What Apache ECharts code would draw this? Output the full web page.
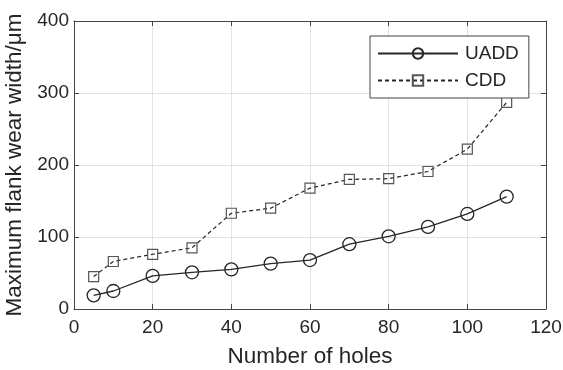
<!DOCTYPE html>
<html><head><meta charset="utf-8">
<script src="https://cdn.jsdelivr.net/npm/echarts@6/dist/echarts.min.js"></script>
<style>html,body{margin:0;padding:0;background:#fff}#c{width:563px;height:370px}</style>
</head><body><div id="c"></div>
<script>
const holes = [5, 10, 20, 30, 40, 50, 60, 70, 80, 90, 100, 110];
const uadd = [19, 25, 46, 51, 55, 63, 68, 90, 101, 114, 132, 156];
const cdd = [45, 66, 76, 85, 133, 140, 168, 180, 181, 191, 222, 287];
const seriesNames = ['UADD', 'CDD'];
const xTitle = 'Number of holes';
const yTitle = 'Maximum flank wear width/μm';

const font = 'Liberation Sans, Arial, sans-serif';
const ink = '#262626';
const frame = '#444';
const chart = echarts.init(document.getElementById('c'), null, {renderer: 'canvas'});
const pair = (xs, ys) => xs.map((x, i) => [x, ys[i]]);
const frameAxis = {
  axisLine: {show: true, onZero: false, lineStyle: {color: frame, width: 1}},
  axisTick: {show: true, inside: true, length: 5, lineStyle: {color: frame}},
  axisLabel: {show: false},
  splitLine: {show: false}
};
chart.setOption({
  animation: false,
  grid: {left: 74, right: 17, top: 21, bottom: 61, containLabel: false, outerBoundsMode: 'none'},
  xAxis: [{
    type: 'value', min: 0, max: 120, interval: 20, position: 'bottom',
    name: xTitle, nameLocation: 'middle', nameGap: 36,
    nameTextStyle: {fontFamily: font, fontSize: 22.5, color: ink},
    axisLine: {show: true, onZero: false, lineStyle: {color: frame}},
    axisTick: {show: true, inside: true, length: 5, lineStyle: {color: frame}},
    axisLabel: {fontFamily: font, fontSize: 19, color: ink, margin: 9},
    splitLine: {show: true, lineStyle: {color: '#e3e3e3', width: 1}}
  }, Object.assign({type: 'value', min: 0, max: 120, interval: 20, position: 'top'}, frameAxis)],
  yAxis: [{
    type: 'value', min: 0, max: 400, interval: 100, position: 'left',
    name: yTitle, nameLocation: 'middle', nameGap: 41,
    nameTextStyle: {fontFamily: font, fontSize: 22.5, color: ink},
    axisLine: {show: true, onZero: false, lineStyle: {color: frame}},
    axisTick: {show: true, inside: true, length: 5, lineStyle: {color: frame}},
    axisLabel: {fontFamily: font, fontSize: 19, color: ink, margin: 5},
    splitLine: {show: true, lineStyle: {color: '#e3e3e3', width: 1}}
  }, Object.assign({type: 'value', min: 0, max: 400, interval: 100, position: 'right'}, frameAxis)],
  legend: {
    left: 370, top: 36, orient: 'vertical',
    data: seriesNames,
    itemWidth: 80, itemHeight: 13, itemGap: 8,
    padding: [8, 10, 8, 7],
    borderColor: frame, borderWidth: 1, backgroundColor: '#fff',
    textStyle: {fontFamily: font, fontSize: 19, color: ink, padding: [0, 0, 0, 2]}
  },
  series: [{
    name: seriesNames[0], type: 'line', data: pair(holes, uadd),
    symbol: 'circle', symbolSize: 13,
    lineStyle: {color: ink, width: 1.3, type: 'solid'},
    itemStyle: {color: 'rgba(255,255,255,0)', borderColor: ink, borderWidth: 1.3}
  }, {
    name: seriesNames[1], type: 'line', data: pair(holes, cdd),
    symbol: 'rect', symbolSize: 10,
    lineStyle: {color: ink, width: 1.2, type: [4, 3]},
    itemStyle: {color: 'rgba(255,255,255,0)', borderColor: '#555', borderWidth: 1.2}
  }]
});
</script></body></html>
